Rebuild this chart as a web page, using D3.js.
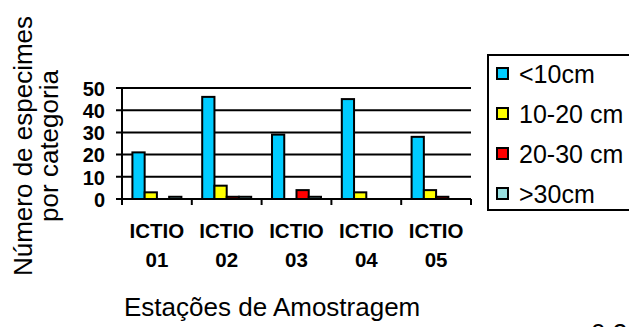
<!DOCTYPE html>
<html><head><meta charset="utf-8">
<script src="https://cdn.jsdelivr.net/npm/d3@7"></script>
<style>body{margin:0;background:#fff;} svg{display:block;font-family:Arial,"Liberation Sans",sans-serif;}</style>
</head><body>
<script>
const stations = ["ICTIO 01","ICTIO 02","ICTIO 03","ICTIO 04","ICTIO 05"];
const seriesNames = ["<10cm","10-20 cm","20-30 cm",">30cm"];
const seriesColors = ["#00CCFF","#FFFF00","#FF0000","#99E0E0"];
const lt10 = [21,46,29,45,28];
const s10_20 = [3,6,0,3,4];
const s20_30 = [0,1,4,0,1];
const gt30 = [1,1,1,0,0];
const yTicks = [0,10,20,30,40,50];
const xTitle = "Estações de Amostragem";
const yTitle = ["Número de especimes","por categoria"];

const series = [lt10, s10_20, s20_30, gt30];
const W = 629, H = 327;
const svg = d3.select("body").append("svg").attr("width",W).attr("height",H);

const x0 = d3.scaleBand().domain(stations).range([122,471]).padding(0);
const x1 = d3.scaleBand().domain(seriesNames).range([0, x0.bandwidth()]).paddingOuter(0.85).paddingInner(0);
const y = d3.scaleLinear().domain([0,50]).range([199,88]);

// gridlines
svg.append("g").selectAll("line").data(yTicks).join("line")
  .attr("x1",116).attr("x2",471).attr("y1",d=>y(d)).attr("y2",d=>y(d))
  .attr("stroke","#000").attr("stroke-width",2);

// y axis
const yAxis = d3.axisLeft(y).tickValues(yTicks).tickSize(0).tickPadding(0);
const gy = svg.append("g").attr("transform","translate(122,0)").call(yAxis);
gy.select(".domain").remove();
gy.append("line").attr("x1",0).attr("x2",0).attr("y1",y(50)).attr("y2",205).attr("stroke","#000").attr("stroke-width",2);
gy.selectAll(".tick text").attr("x",-17).attr("dy","0.36em").attr("font-size",20).attr("font-weight","bold").attr("fill","#000").attr("font-family","Arial, 'Liberation Sans', sans-serif");

// x axis ticks at boundaries
const bounds = stations.map(s=>x0(s)).concat([x0.range()[1]]);
svg.append("g").selectAll("line").data(bounds).join("line")
  .attr("x1",d=>d).attr("x2",d=>d).attr("y1",199).attr("y2",205)
  .attr("stroke","#000").attr("stroke-width",2);

// bars
const gBars = svg.append("g");
stations.forEach((st,i)=>{
  seriesNames.forEach((sn,j)=>{
    const v = series[j][i];
    if(v<=0) return;
    gBars.append("rect")
      .attr("x", x0(st)+x1(sn))
      .attr("y", y(v))
      .attr("width", x1.bandwidth())
      .attr("height", y(0)-y(v))
      .attr("fill", seriesColors[j])
      .attr("stroke","#000").attr("stroke-width",2);
  });
});

// category labels
const gl = svg.append("g");
stations.forEach(st=>{
  const parts = st.split(" ");
  const cx = x0(st)+x0.bandwidth()/2;
  const t = gl.append("text").attr("text-anchor","middle").attr("font-size",20.5).attr("font-weight","bold");
  t.append("tspan").attr("x", cx).attr("y",238).text(parts[0]);
  t.append("tspan").attr("x", cx).attr("y",267).text(parts[1]);
});

// x title
svg.append("text").attr("x",124).attr("y",316).attr("text-anchor","start").attr("font-size",26).text(xTitle);

// y title
const yt = svg.append("text").attr("transform","translate(0,146) rotate(-90)").attr("text-anchor","middle").attr("font-size",26);
yt.append("tspan").attr("x",0).attr("y",32).text(yTitle[0]);
yt.append("tspan").attr("x",0).attr("y",58).text(yTitle[1]);

// legend
const lg = svg.append("g");
lg.append("rect").attr("x",488).attr("y",55).attr("width",160).attr("height",155).attr("fill","none").attr("stroke","#000").attr("stroke-width",2);
seriesNames.forEach((sn,j)=>{
  const cy = 74 + j*40;
  lg.append("rect").attr("x",497).attr("y",cy-6).attr("width",11).attr("height",11).attr("fill",seriesColors[j]).attr("stroke","#000").attr("stroke-width",2);
  lg.append("text").attr("x",519).attr("y",cy+9).attr("font-size",25).text(sn);
});

// partially visible text at bottom right (cut off in the reference too)
svg.append("text").attr("x",591).attr("y",342).attr("font-size",26).text("0.2");
</script>
</body></html>
